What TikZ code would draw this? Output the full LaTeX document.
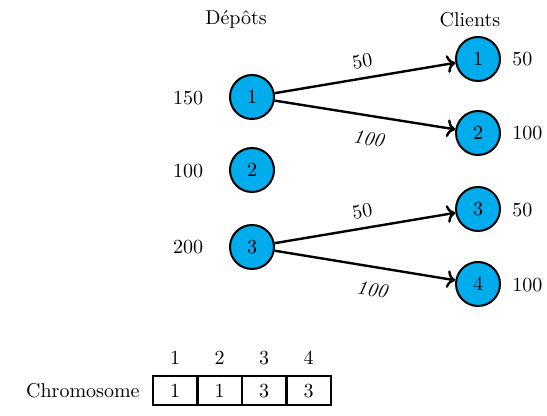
\documentclass[tikz,border=0pt]{standalone}
\usetikzlibrary{arrows.meta}
\definecolor{nodecyan}{RGB}{0,172,236}
\begin{document}
\begin{tikzpicture}[x=0.5pt,y=-0.5pt,
  vtx/.style={circle,draw=black,line width=1pt,fill=nodecyan,minimum size=22pt,inner sep=0pt},
  lbl/.style={inner sep=1pt},
  edge/.style={->,line width=1.2pt},
  cell/.style={draw=black,line width=1pt,minimum width=22pt,minimum height=14.5pt,inner sep=0pt}]
\useasboundingbox (0,0) rectangle (547,416);
\node[lbl] (tD) at (236,19) {Dépôts};
\node[lbl] (tC) at (470,20) {Clients};
\node[vtx] (d1) at (252,97) {1};
\node[vtx] (d2) at (252,170) {2};
\node[vtx] (d3) at (252,247) {3};
\node[vtx] (c1) at (478,59) {1};
\node[vtx] (c2) at (478,133) {2};
\node[vtx] (c3) at (478,209) {3};
\node[vtx] (c4) at (478,284) {4};
\node[lbl] (q1) at (188,98) {150};
\node[lbl] (q2) at (188,171) {100};
\node[lbl] (q3) at (188,247) {200};
\node[lbl,anchor=west] (r1) at (510,59) {50};
\node[lbl,anchor=west] (r2) at (510,133) {100};
\node[lbl,anchor=west] (r3) at (510,210) {50};
\node[lbl,anchor=west] (r4) at (510,285) {100};
\draw[edge] (d1) -- node[sloped,above=1pt,pos=0.5] {50} (c1);
\draw[edge] (d1) -- node[sloped,below=4pt,pos=0.54] {\itshape 100} (c2);
\draw[edge] (d3) -- node[sloped,above=1pt,pos=0.5] {50} (c3);
\draw[edge] (d3) -- node[sloped,below=4pt,pos=0.56] {\itshape 100} (c4);
\node[cell] (k1) at (175,391) {1};
\node[cell] (k2) at (219.5,391) {1};
\node[cell] (k3) at (264,391) {3};
\node[cell] (k4) at (308.5,391) {3};
\node[lbl,anchor=east,xshift=-5pt] (chr) at (k1.west) {Chromosome};
\node[lbl] (n1) at (175,358) {1};
\node[lbl] (n2) at (219.5,358) {2};
\node[lbl] (n3) at (264,358) {3};
\node[lbl] (n4) at (308.5,358) {4};
\end{tikzpicture}
\end{document}
